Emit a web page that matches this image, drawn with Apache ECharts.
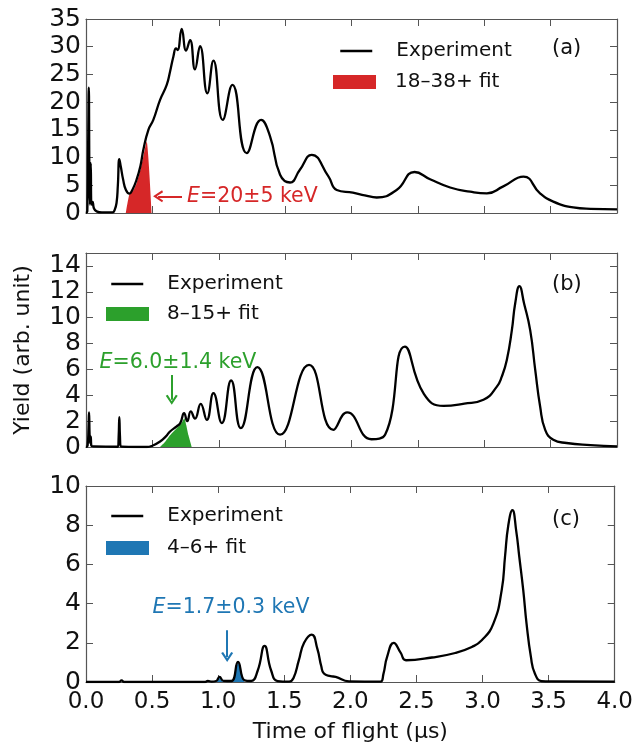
<!DOCTYPE html>
<html><head><meta charset="utf-8">
<script src="https://cdn.jsdelivr.net/npm/echarts@6/dist/echarts.min.js"></script>
<style>html,body{margin:0;padding:0;background:#fff}#c{width:636px;height:751px}</style>
</head><body><div id="c"></div>
<script>
// ---------- data ----------
const xTickLabels = ['0.0','0.5','1.0','1.5','2.0','2.5','3.0','3.5','4.0'];

// Panel (a)
const aExpX = [0.000,0.010,0.016,0.021,0.026,0.030,0.036,0.041,0.050,0.060,0.080,0.12,0.20,0.215,0.23,0.24,0.251,0.262,0.28,0.30,0.327,0.35,0.38,0.41,0.432,0.47,0.507,0.558,0.608,0.633,0.658,0.678,0.69,0.721,0.754,0.784,0.821,0.859,0.914,0.96,1.03,1.103,1.211,1.319,1.387,1.462,1.537,1.61,1.70,1.826,1.889,2.01,2.10,2.19,2.34,2.475,2.592,2.743,2.894,3.02,3.14,3.296,3.42,3.52,3.67,3.80,4.0];
const aExpY = [0,0.3,12,22.6,6,1.5,9.0,1.5,2.0,0.8,0.3,0.1,0.1,0.5,1.8,5,9.7,8.4,6.0,4.2,3.5,4.2,5.95,8.5,11.4,15.0,16.8,20.4,23.1,25.5,28.2,29.7,29.4,33.2,29.3,31.2,25.9,30.1,21.6,27.5,16.8,23.1,10.8,16.8,13.8,6.9,5.5,7.75,10.5,6.6,4.15,3.67,3.2,2.8,4.15,7.4,6.1,4.6,3.85,3.55,4.75,6.55,3.55,2.05,1.0,0.75,0.67];
const aFitX = [0.300,0.327,0.355,0.38,0.41,0.432,0.457,0.495];
const aFitY = [0,3.4,4.0,5.3,7.8,10.2,12.9,0];

// Panel (b)
const bExpX = [0.000,0.012,0.019,0.023,0.027,0.031,0.036,0.040,0.060,0.24,0.246,0.251,0.256,0.262,0.457,0.50,0.558,0.60,0.633,0.683,0.71,0.739,0.763,0.789,0.821,0.864,0.91,0.96,1.023,1.093,1.166,1.291,1.462,1.68,1.864,1.967,2.15,2.253,2.402,2.545,2.693,2.85,2.994,3.095,3.132,3.17,3.208,3.233,3.265,3.30,3.346,3.384,3.421,3.459,3.52,3.62,3.80,4.0];
const bExpY = [0,0.1,1.5,2.67,1.0,0.3,0.8,0.1,0.05,0.02,0.8,2.3,0.8,0.05,0.0,0.1,0.43,0.8,1.2,1.6,1.85,2.62,2.0,2.75,2.2,3.34,2.1,4.16,1.85,5.14,1.46,6.17,0.95,6.35,1.33,2.67,0.6,0.95,7.76,4.1,3.18,3.35,3.65,4.67,5.44,6.73,9.04,11.1,12.44,11.1,9.04,5.96,3.13,1.33,0.56,0.31,0.15,0.05];
const bFitX = [0.558,0.60,0.633,0.683,0.72,0.741,0.755,0.772,0.796];
const bFitY = [0,0.45,0.9,1.45,1.85,2.23,1.7,0.9,0];

// Panel (c)
const cExpX = [0.0,0.25,0.269,0.29,0.90,0.922,0.95,0.985,1.01,1.04,1.10,1.15,1.20,1.249,1.30,1.351,1.40,1.45,1.537,1.57,1.61,1.65,1.708,1.75,1.78,1.80,1.85,1.889,1.99,2.228,2.25,2.278,2.328,2.38,2.421,2.617,2.793,2.919,2.994,3.082,3.145,3.17,3.195,3.226,3.255,3.278,3.308,3.333,3.366,3.396,3.446,3.521,4.0];
const cExpY = [0,0,0.08,0,0,0.06,0.02,0.05,0.26,0.06,0.05,1.02,0.08,0.05,0.6,1.84,0.6,0.05,0.02,0.2,1.1,2.0,2.42,1.7,0.8,0.43,0.3,0.26,0.03,0.02,0.4,1.28,2.0,1.5,1.11,1.25,1.48,1.79,2.13,2.98,4.69,6.39,8.0,8.77,7.7,6.39,4.69,2.98,1.28,0.43,0.05,0.03,0.02];
const cFitX = [0.99,1.01,1.04,1.105,1.15,1.198];
const cFitY = [0,0.2,0,0,0.98,0];

// ---------- styling ----------
const FONT = 'DejaVu Sans';
const AX = '#555';
const RED = '#d62728', GREEN = '#2ca02c', BLUE = '#1f77b4';
const pairs = (xs, ys) => xs.map((x, i) => [x, ys[i]]);
const chevron = 'path://M5,0 L10,9 L8.4,10 L5,3.6 L1.6,10 L0,9 Z';

const grids = [
  {left: 86, right: 19, top: 19, height: 194},
  {left: 86, right: 19, top: 253, height: 194},
  {left: 86, right: 19, top: 486, height: 196}
];

const xAxes = [], yAxes = [];
const yCfg = [{max: 35, interval: 5}, {max: 15, interval: 2}, {max: 10, interval: 2}];
grids.forEach((g, gi) => {
  const bottom = gi === 2;
  const common = {
    type: 'value', gridIndex: gi, min: 0, max: 4, interval: 0.5,
    axisLine: {show: true, onZero: false, lineStyle: {color: AX, width: 1.2}},
    axisTick: {show: true, inside: true, length: 7, lineStyle: {color: AX, width: 1}},
    splitLine: {show: false}
  };
  xAxes.push(Object.assign({}, common, {
    position: 'bottom',
    axisLabel: {show: bottom, fontSize: 23, fontFamily: FONT, color: '#111', margin: 9,
      formatter: v => xTickLabels[Math.round(v / 0.5)]},
    name: bottom ? 'Time of flight (µs)' : '', nameLocation: 'middle', nameGap: 39,
    nameTextStyle: {fontSize: 22, fontFamily: FONT, color: '#111'}
  }));
  xAxes.push(Object.assign({}, common, {position: 'top', axisLabel: {show: false}}));
  const yc = yCfg[gi];
  const ycommon = {
    type: 'value', gridIndex: gi, min: 0, max: yc.max, interval: yc.interval,
    axisLine: {show: true, onZero: false, lineStyle: {color: AX, width: 1.2}},
    axisTick: {show: true, inside: true, length: 7, lineStyle: {color: AX, width: 1}},
    splitLine: {show: false}
  };
  yAxes.push(Object.assign({}, ycommon, {
    position: 'left',
    axisLabel: {fontSize: 25, fontFamily: FONT, color: '#111', margin: 5,
      formatter: v => (v % yc.interval !== 0) ? '' : String(v)},
    name: gi === 1 ? 'Yield (arb. unit)' : '', nameLocation: 'middle', nameGap: 52,
    nameTextStyle: {fontSize: 22, fontFamily: FONT, color: '#111'}
  }));
  yAxes.push(Object.assign({}, ycommon, {position: 'right', axisLabel: {show: false}}));
});

function expSeries(gi, data) {
  return {
    name: 'Experiment', type: 'line', xAxisIndex: gi * 2, yAxisIndex: gi * 2,
    data: data, symbol: 'none', smooth: 0.5, z: 5, color: '#000',
    lineStyle: {color: '#000', width: 2.3}
  };
}
function fitSeries(gi, name, color, data, arrow, textCoord, textAlign, text) {
  return {
    name: name, type: 'line', xAxisIndex: gi * 2, yAxisIndex: gi * 2,
    data: data, symbol: 'none', smooth: 0.2, z: 3, color: color,
    itemStyle: {color: color},
    lineStyle: {width: 0, color: color},
    areaStyle: {color: color, opacity: 1},
    markLine: {
      silent: true, symbol: ['none', chevron], symbolSize: [12, 10],
      lineStyle: {color: color, width: 2, type: 'solid'},
      label: {show: false},
      data: [[{coord: arrow[0]}, {coord: arrow[1]}]]
    },
    markPoint: {
      silent: true, symbol: 'circle', symbolSize: 0,
      itemStyle: {color: 'rgba(0,0,0,0)'},
      label: {
        show: true, position: 'inside', align: textAlign, verticalAlign: 'middle',
        formatter: '{i|E}{n|' + text + '}',
        rich: {
          i: {fontStyle: 'italic', fontSize: 20.5, fontFamily: FONT, color: color},
          n: {fontSize: 20.5, fontFamily: FONT, color: color}
        }
      },
      data: [{coord: textCoord}]
    }
  };
}

const series = [
  fitSeries(0, '18–38+ fit', RED, pairs(aFitX, aFitY), [[0.723, 3.0], [0.543, 3.0]], [0.761, 3.0], 'left', '=20±5 keV'),
  expSeries(0, pairs(aExpX, aExpY)),
  fitSeries(1, '8–15+ fit', GREEN, pairs(bFitX, bFitY), [[0.646, 5.57], [0.646, 3.65]], [0.693, 6.55], 'center', '=6.0±1.4 keV'),
  expSeries(1, pairs(bExpX, bExpY)),
  fitSeries(2, '4–6+ fit', BLUE, pairs(cFitX, cFitY), [[1.068, 2.64], [1.068, 1.28]], [1.097, 3.8], 'center', '=1.7±0.3 keV'),
  expSeries(2, pairs(cExpX, cExpY))
];

const legTxt = pad => ({fontSize: 20, fontFamily: FONT, color: '#111', padding: [0, 0, 0, pad]});
const legBase = {padding: 0, selectedMode: false, orient: 'vertical', itemHeight: 14};
const expLeg = {itemStyle: {opacity: 0}, lineStyle: {width: 2.5, color: '#000'}};
const legend = [
  Object.assign({}, legBase, expLeg, {data: ['Experiment'], left: 339, top: 41, itemWidth: 32, textStyle: legTxt(19)}),
  Object.assign({}, legBase, {data: [{name: '18–38+ fit', icon: 'rect'}], left: 333, top: 72, itemWidth: 43, textStyle: legTxt(14)}),
  Object.assign({}, legBase, expLeg, {data: ['Experiment'], left: 110, top: 274, itemWidth: 32, textStyle: legTxt(19)}),
  Object.assign({}, legBase, {data: [{name: '8–15+ fit', icon: 'rect'}], left: 106, top: 304, itemWidth: 43, textStyle: legTxt(13)}),
  Object.assign({}, legBase, expLeg, {data: ['Experiment'], left: 110, top: 506, itemWidth: 32, textStyle: legTxt(19)}),
  Object.assign({}, legBase, {data: [{name: '4–6+ fit', icon: 'rect'}], left: 106, top: 538, itemWidth: 43, textStyle: legTxt(13)})
];

const panelLabel = (t, top) => ({type: 'text', left: 552, top: top,
  style: {text: t, fontSize: 21, fontFamily: FONT, fill: '#111'}});

const chart = echarts.init(document.getElementById('c'), null, {renderer: 'canvas'});
chart.setOption({
  animation: false,
  backgroundColor: '#fff',
  grid: grids,
  xAxis: xAxes,
  yAxis: yAxes,
  legend: legend,
  series: series,
  graphic: [panelLabel('(a)', 38), panelLabel('(b)', 274), panelLabel('(c)', 509)]
});
</script>
</body></html>
